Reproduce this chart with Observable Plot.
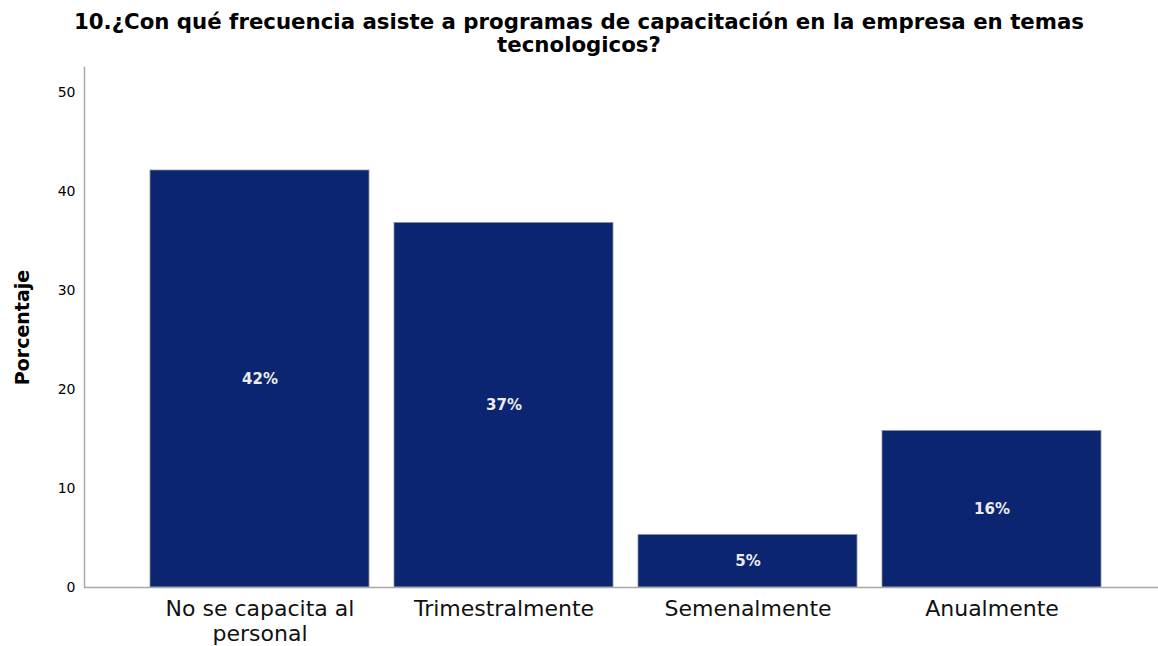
<!DOCTYPE html>
<html>
<head>
<meta charset="utf-8">
<script src="https://cdn.jsdelivr.net/npm/d3@7"></script>
<script src="https://cdn.jsdelivr.net/npm/@observablehq/plot@0.6"></script>
<style>
  body { margin: 0; background: #fff; }
  #title { height: 60px; box-sizing: border-box; padding-top: 10px; text-align: center;
    font-family: "DejaVu Sans", sans-serif; font-weight: bold; font-size: 21.3px; line-height: 23px; color: #000; }
</style>
</head>
<body>
<div id="title">10.¿Con qué frecuencia asiste a programas de capacitación en la empresa en temas<br>tecnologicos?</div>
<div id="chart"></div>
<script>
const categories = ["No se capacita al personal", "Trimestralmente", "Semenalmente", "Anualmente"];
const xLabels = ["No se capacita al\npersonal", "Trimestralmente", "Semenalmente", "Anualmente"];
const values = [42.1, 36.8, 5.3, 15.8];
const pctLabels = ["42%", "37%", "5%", "16%"];
const yTicks = [0, 10, 20, 30, 40, 50];

const data = categories.map((c, i) => ({cat: c, v: values[i], lab: pctLabels[i]}));

const plot = Plot.plot({
  width: 1158,
  height: 586,
  marginLeft: 84,
  marginRight: 0,
  marginTop: 7,
  marginBottom: 59,
  style: {fontFamily: "DejaVu Sans, sans-serif", background: "#fff"},
  x: {domain: categories, paddingInner: 0.1025, paddingOuter: 0.252, align: 0.537, label: null},
  y: {domain: [0, 52.5], label: null},
  marks: [
    Plot.barY(data, {x: "cat", y: "v", fill: "#0b2570", stroke: "#8a8f9c", strokeWidth: 0.8}),
    Plot.text(data, {x: "cat", y: d => d.v / 2, text: "lab", fill: "#ececec", fontWeight: "bold", fontSize: 15}),
    Plot.axisY({ticks: yTicks, tickSize: 0, tickPadding: 9, fontSize: 14, fill: "#000", label: null}),
    Plot.axisX({tickSize: 0, tickPadding: 11, fontSize: 22, fill: "#111", lineHeight: 1.12,
      tickFormat: (d) => xLabels[categories.indexOf(d)], label: null}),
    Plot.frame({anchor: "left", stroke: "#a8a8a8", strokeWidth: 1.5}),
    Plot.ruleY([0], {stroke: "#a8a8a8", strokeWidth: 1.5}),
    Plot.text(["Porcentaje"], {frameAnchor: "left", textAnchor: "middle", dx: -62, rotate: -90, fontSize: 19, fontWeight: "bold", fill: "#000"})
  ]
});
document.getElementById("chart").appendChild(plot);
</script>
</body>
</html>
